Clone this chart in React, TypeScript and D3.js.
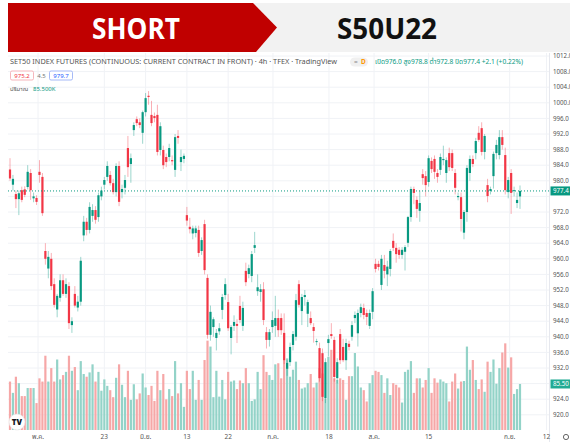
import React from "react";
import * as d3 from "d3";

// ---------- DATA ----------
const opens = [982.9,979.0,976.6,975.3,977.6,977.8,978.4,982.0,975.5,975.6,982.3,981.0,
962.0,957.5,960.0,953.5,947.0,950.0,954.5,951.0,953.0,943.0,951.0,947.5,949.0,
966.0,969.5,967.4,971.0,972.5,970.7,976.0,979.0,981.0,981.5,979.4,977.1,983.8,977.1,978.2,
988.4,984.3,993.0,995.8,995.0,992.3,997.6,1001.8,996.9,996.6,996.9,987.9,987.9,986.1,986.1,985.3,982.8,991.5,984.8,985.6,
971.2,968.2,966.5,966.6,967.4,962.0,968.9,955.1,940.5,942.5,939.7,941.4,946.9,950.7,948.9,939.7,942.8,943.3,947.9,942.8,
956.9,956.1,955.6,962.8,951.7,951.5,952.2,941.2,939.2,942.5,942.8,944.8,944.8,941.0,931.8,933.5,937.9,940.0,953.5,946.6,
950.2,945.9,944.8,942.5,938.7,937.1,935.8,924.3,938.4,940.7,939.2,929.4,940.7,937.4,934.0,938.2,940.0,944.8,940.9,946.1,
947.4,946.1,942.8,946.4,958.7,958.7,953.3,958.4,956.0,957.4,964.6,962.8,962.3,961.0,961.8,964.1,970.7,977.9,975.1,972.3,
981.7,981.2,979.7,985.1,985.6,982.0,982.8,985.3,982.0,987.1,987.1,982.0,975.8,975.8,966.7,972.0,982.0,985.6,987.1,992.3,
993.5,987.4,978.9,977.4,981.2,987.1,986.6,991.2,986.6,977.1,982.0,977.4,974.3,976.0];

const highs = [985.8,981.5,977.5,977.5,978.5,978.6,984.0,983.0,977.0,976.3,985.3,982.0,
964.0,962.0,961.5,955.0,951.0,956.0,956.0,955.0,954.0,945.0,953.0,950.5,960.5,
971.0,970.5,974.5,974.0,973.5,977.0,978.5,981.0,985.0,982.5,980.5,984.5,985.0,979.0,981.5,
991.5,987.0,995.0,996.5,996.0,998.0,1002.5,1003.0,1000.5,997.5,999.5,995.0,989.0,987.0,989.5,986.5,992.0,993.0,988.0,987.0,
973.3,970.5,968.5,968.5,968.5,965.5,970.0,956.0,948.0,945.0,942.0,943.5,951.0,955.0,951.0,943.0,945.5,944.5,950.5,949.0,
959.0,958.5,962.0,966.9,956.0,953.5,954.0,942.5,942.0,946.5,950.5,947.0,946.0,946.0,934.0,938.5,941.5,951.0,954.5,951.0,
952.0,949.5,946.5,943.5,939.5,938.5,937.0,934.5,940.5,943.5,940.0,934.5,942.0,939.5,939.5,939.0,944.0,946.5,947.0,948.5,
948.5,947.0,947.0,952.5,960.0,959.5,961.0,961.0,959.5,962.5,966.5,964.0,963.0,963.0,963.5,971.0,978.5,978.5,976.0,977.5,
983.0,982.5,986.5,986.0,986.5,983.0,987.0,989.0,986.0,988.5,988.0,983.0,977.0,977.0,972.5,984.0,986.5,986.5,991.0,994.0,
995.0,992.0,980.5,978.5,987.5,990.5,993.0,993.0,988.5,981.0,983.0,978.5,977.0,978.8];

const lows = [980.0,977.5,973.0,971.2,974.5,975.8,977.8,975.1,974.5,973.8,979.5,971.0,
958.5,955.0,952.0,947.5,945.0,949.0,950.5,950.0,942.0,941.0,947.5,946.5,948.0,
964.5,966.0,966.5,969.5,969.0,969.5,975.0,977.8,980.0,978.8,976.5,976.0,973.5,975.5,976.5,
981.0,979.5,991.5,994.0,993.5,989.5,996.5,999.5,994.0,995.0,986.5,986.5,983.0,983.5,985.0,984.0,981.0,989.5,982.5,984.5,
968.5,966.5,965.0,965.5,960.5,961.0,956.0,939.5,939.0,940.0,936.5,940.5,944.5,949.5,941.5,935.5,941.5,938.4,943.5,941.5,
953.0,955.0,954.0,961.5,950.5,949.0,943.0,937.0,937.5,941.0,940.0,940.0,940.5,933.0,930.0,932.5,936.5,939.0,947.5,943.0,
948.0,942.5,943.0,938.5,937.8,928.5,923.5,923.0,935.0,939.5,928.5,928.0,933.0,933.5,931.5,936.5,939.0,943.5,937.5,945.0,
944.5,943.0,942.0,944.5,956.5,957.0,952.0,955.0,953.0,955.5,962.0,959.0,960.0,960.0,957.0,963.0,969.5,974.0,970.5,969.5,
979.0,976.0,978.5,982.0,980.5,979.5,981.5,984.0,979.5,982.5,982.5,976.5,975.0,967.0,965.0,969.5,980.0,983.5,985.5,990.0,
986.5,985.5,974.5,976.5,978.0,985.5,985.5,988.0,976.5,975.5,971.5,976.0,973.0,972.8];

const closes = [980.6,980.5,975.3,976.8,975.1,976.4,982.3,977.6,976.0,974.6,981.5,971.7,
960.0,960.5,953.0,948.2,950.5,954.5,951.0,953.5,943.5,944.0,948.0,949.0,959.5,
969.5,967.4,973.3,972.5,970.0,976.3,977.5,980.2,983.8,979.4,977.1,983.8,974.6,977.9,980.2,
983.5,985.8,994.3,994.8,994.3,997.6,1001.2,1001.5,994.8,996.1,987.4,994.0,984.0,984.8,988.4,985.0,991.2,991.0,986.1,986.4,
969.8,967.6,967.8,967.8,961.5,964.8,957.1,940.5,946.4,944.5,941.0,942.2,950.2,953.5,942.2,942.5,943.8,942.8,944.3,947.4,
954.0,957.6,961.2,963.5,952.7,952.2,944.3,939.2,941.2,944.3,944.8,941.7,941.7,934.0,933.3,937.4,940.7,949.4,948.2,950.2,
950.7,948.9,943.5,941.5,938.9,929.4,924.6,933.5,939.4,940.2,929.7,933.5,934.0,934.0,938.4,937.4,943.0,945.6,946.1,947.6,
945.6,945.1,946.1,951.7,957.4,957.9,960.0,956.9,958.0,962.0,962.8,961.2,961.0,962.3,963.0,970.7,977.9,976.9,972.8,974.3,
980.7,978.9,985.8,983.0,982.3,981.0,986.1,985.6,985.3,983.5,983.3,978.2,976.1,970.2,972.0,983.3,985.6,984.3,990.2,990.5,
987.4,991.5,976.1,977.9,986.9,989.2,991.2,989.2,977.6,980.2,976.9,977.6,975.1,977.4];

const volumes = [90,69,99,87,63,63,78,78,78,50,
96,90,138,90,115,90,131,94,102,108,
138,110,117,74,128,104,99,107,122,90,
108,73,94,82,74,61,97,122,84,61,
110,56,85,57,68,105,79,65,82,54,
110,74,104,57,76,63,128,68,87,43,
110,76,110,56,93,56,130,166,155,61,
110,62,93,57,108,90,92,76,92,87,
115,87,54,57,108,76,139,108,102,93,
122,124,96,130,133,99,112,127,93,77,
79,87,104,79,88,115,105,59,136,149,
96,93,96,93,56,100,100,143,118,79,
74,53,87,102,110,108,102,69,96,65,
87,84,79,51,108,112,128,69,96,96,
79,93,115,69,96,88,94,90,87,53,
90,105,77,90,91,155,112,130,93,76,
94,71,127,108,131,86,115,144,161,116,
135,67,76,85.5];

const priceTicks = [920,924,928,932,936,940,944,948,952,956,960,964,968,972,976,980,984,988,992,996,1000,1004,1008,1012];
const timeLabels = ["พ.ค.","23","มิ.ย.","13","22","ก.ค.","18","ส.ค.","15","ก.ย.","12"];
const timeLabelBars = [9.5,32,46,60,74,89.2,108.2,123.5,142,169.5,182];

const lastClose = 977.4;
const lastVolume = 85.5;

// ---------- COLORS ----------
const UP = "#089981";
const DOWN = "#f23645";
const UP_VOL = "#93d3c8";
const DOWN_VOL = "#f6a7a7";
const FONT = "'Noto Sans', 'Noto Sans Thai', 'DejaVu Sans', sans-serif";

export default function App() {
  const W = 570, H = 442;
  const x = d3.scaleLinear().domain([0, opens.length - 1]).range([10, 520]);
  const y = d3.scaleLinear().domain([920, 1012]).range([414.8, 56]);
  const yv = d3.scaleLinear().domain([0, 170]).range([430, 338.5]);
  const plotRight = 549;
  const bw = 2.2;

  const yLast = y(lastClose);
  const yVolLast = yv(lastVolume);
  // labels hidden behind the last-price / last-volume badges
  const visibleTicks = priceTicks.filter((t) => Math.abs(y(t) - yLast) > 7 && Math.abs(y(t) - yVolLast) > 7);

  return (
    <svg width={W} height={H} viewBox={`0 0 ${W} ${H}`} style={{ position: "absolute", left: 0, top: 0, background: "#fff" }}>
      {/* header */}
      <rect x={0} y={0} width={W} height={H} fill="#fff" />
      <rect x={250} y={3} width={320} height={49} fill="#f2f2f2" />
      <polygon points="8,3 253,3 277,27.5 256,52 8,52" fill="#c00000" />
      <text x={136} y={38.5} textAnchor="middle" fill="#fff" fontFamily="'Open Sans', sans-serif" fontWeight={700} fontSize={28} textLength={88} lengthAdjust="spacingAndGlyphs">SHORT</text>
      <text x={387} y={38.5} textAnchor="middle" fill="#111" fontFamily="'Open Sans', sans-serif" fontWeight={700} fontSize={28} textLength={100} lengthAdjust="spacingAndGlyphs">S50U22</text>

      {/* grid */}
      {priceTicks.map((t) => (
        <line key={"h" + t} x1={8} x2={plotRight} y1={y(t)} y2={y(t)} stroke="#f0f2f6" strokeWidth={1} />
      ))}
      {timeLabelBars.map((b, i) => (
        <line key={"v" + i} x1={x(b)} x2={x(b)} y1={53} y2={430} stroke="#f0f2f6" strokeWidth={1} />
      ))}
      <line x1={plotRight + 0.5} x2={plotRight + 0.5} y1={53} y2={H} stroke="#e6e8ee" strokeWidth={1} />

      {/* volume */}
      {volumes.map((v, i) => (
        <rect key={"vol" + i} x={x(i) - bw / 2} y={yv(v)} width={bw} height={430 - yv(v)}
          fill={closes[i] >= opens[i] ? UP_VOL : DOWN_VOL} />
      ))}

      {/* candles */}
      {opens.map((o, i) => {
        const c = closes[i];
        const up = c >= o;
        const col = up ? UP : DOWN;
        const top = y(Math.max(o, c));
        const bot = y(Math.min(o, c));
        return (
          <g key={"c" + i}>
            <line x1={x(i)} x2={x(i)} y1={y(highs[i])} y2={y(lows[i])} stroke={col} strokeOpacity={0.4} strokeWidth={1} />
            <rect x={x(i) - bw / 2} y={top} width={bw} height={Math.max(1, bot - top)} fill={col} />
          </g>
        );
      })}

      {/* last price line */}
      <line x1={8} x2={plotRight} y1={yLast} y2={yLast} stroke={UP} strokeWidth={1} strokeDasharray="1,2" />

      {/* price axis labels */}
      {visibleTicks.map((t) => (
        <text key={"pl" + t} x={553} y={y(t) + 2.2} fontSize={6.2} fill="#555" fontFamily={FONT}>{t.toFixed(1)}</text>
      ))}
      <rect x={550.5} y={yLast - 4.5} width={20} height={9} fill={UP} />
      <text x={553} y={yLast + 2.2} fontSize={6.2} fill="#fff" fontFamily={FONT}>{lastClose.toFixed(1)}</text>
      <rect x={550.5} y={yVolLast - 4.5} width={20} height={9} fill="#22ab94" />
      <text x={553} y={yVolLast + 2.2} fontSize={6.2} fill="#fff" fontFamily={FONT}>{lastVolume.toFixed(2)}</text>

      {/* time axis */}
      {timeLabels.map((t, i) => (
        <text key={"tl" + i} x={x(timeLabelBars[i])} y={439} textAnchor="middle" fontSize={6.5} fill="#555" fontFamily={FONT}>{t}</text>
      ))}
      <circle cx={566} cy={437} r={2.6} fill="none" stroke="#555" strokeWidth={0.9} />

      {/* legend */}
      <text x={10} y={64} fontSize={7} fill="#555" fontFamily={FONT} textLength={327} lengthAdjust="spacingAndGlyphs">SET50 INDEX FUTURES (CONTINUOUS: CURRENT CONTRACT IN FRONT) · 4h · TFEX · TradingView</text>
      <rect x={350} y={57.5} width={18} height={9} rx={4.5} fill="#f0f0f0" />
      <text x={354} y={64} fontSize={6.5} fill="#888" fontFamily={FONT}>=</text>
      <text x={361} y={64} fontSize={6.5} fill="#ff9800" fontWeight={700} fontFamily={FONT}>D</text>
      <text x={375} y={64} fontSize={6.5} fill={UP} fontFamily={FONT} textLength={148} lengthAdjust="spacingAndGlyphs">เปิด976.0 สูง978.8 ต่ำ972.8 ปิด977.4 +2.1 (+0.22%)</text>

      <rect x={10.5} y={71} width={23} height={9} rx={1.5} fill="#fff" stroke="#f4a3ab" strokeWidth={0.8} />
      <text x={22} y={77.6} textAnchor="middle" fontSize={6} fill={DOWN} fontFamily={FONT}>975.2</text>
      <text x={41.5} y={77.6} textAnchor="middle" fontSize={6} fill="#777" fontFamily={FONT}>4.5</text>
      <rect x={49.5} y={71} width={23} height={9} rx={1.5} fill="#fff" stroke="#8fa8f5" strokeWidth={0.8} />
      <text x={61} y={77.6} textAnchor="middle" fontSize={6} fill="#2962ff" fontFamily={FONT}>979.7</text>

      <text x={10} y={91} fontSize={6} fill="#555" fontFamily={FONT}>ปริมาณ</text>
      <text x={33} y={91} fontSize={6} fill={UP} fontFamily={FONT}>85.500K</text>

      {/* TV logo */}
      <circle cx={17} cy={422} r={8} fill="#fff" stroke="#e3e3e3" strokeWidth={0.6} />
      <text x={17} y={425} textAnchor="middle" fontSize={8} fontWeight={900} fill="#131722" fontFamily={FONT}>TV</text>
    </svg>
  );
}
